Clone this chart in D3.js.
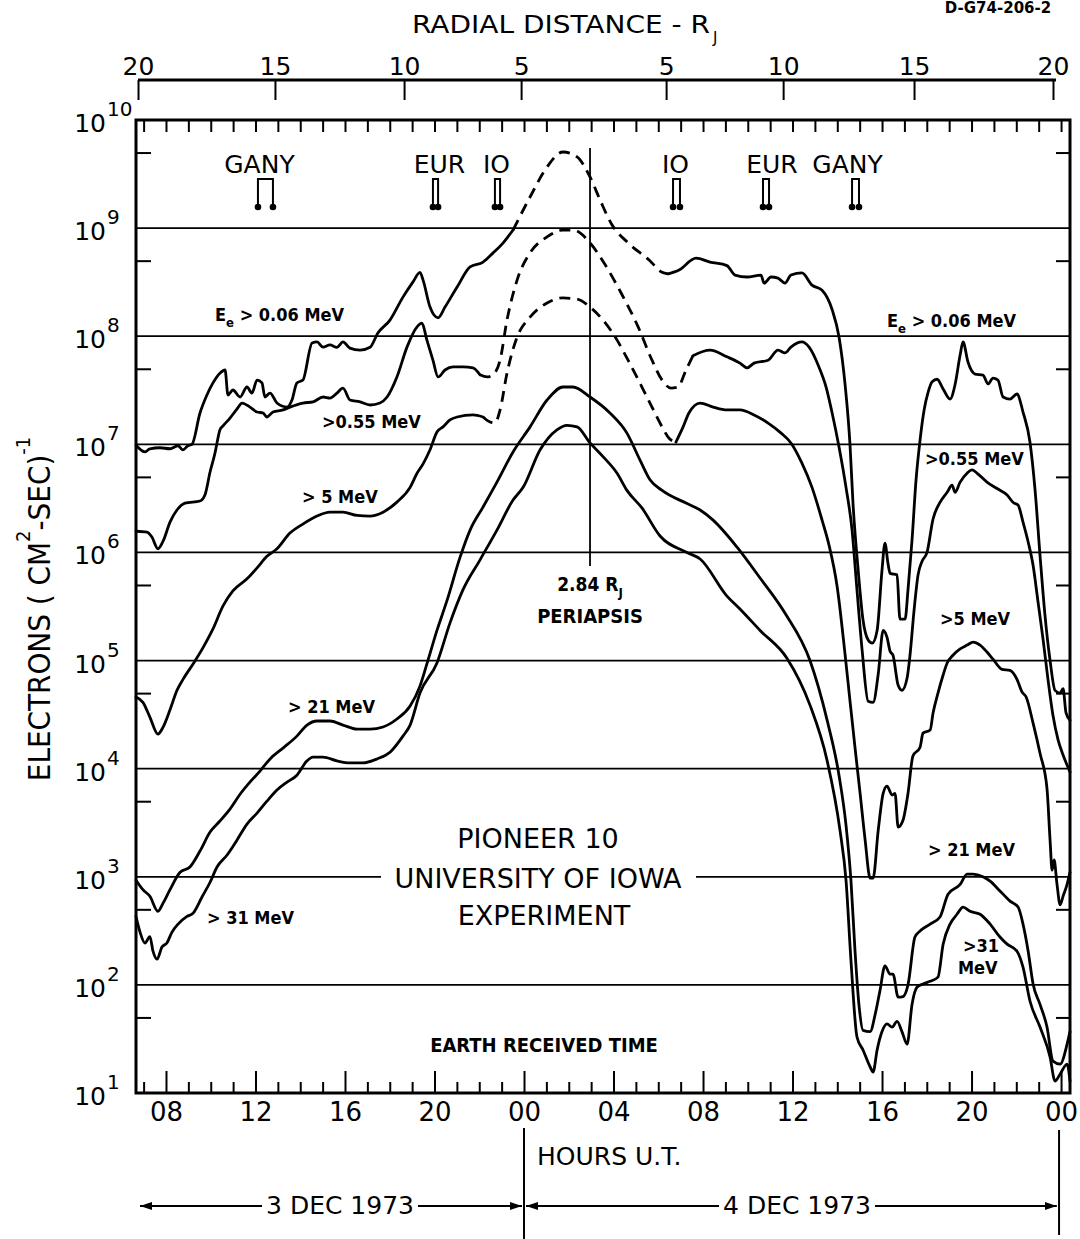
<!DOCTYPE html>
<html><head><meta charset="utf-8">
<script src="https://cdn.jsdelivr.net/npm/d3@7"></script>
<style>
body{margin:0;background:#fff;}
svg{display:block;background:#fff;}
</style></head><body>
<svg id="chart" width="1080" height="1239"></svg>
<script>
// ---------------- DATA ----------------
// hours measured from 00 UT, 3 Dec 1973 (24 = 00 UT 4 Dec, 48 = 00 UT 5 Dec)
const hourTicks  = [8,12,16,20,24,28,32,36,40,44,48];
const hourLabels = ["08","12","16","20","00","04","08","12","16","20","00"];
const radialHours  = [6.75,12.87,18.64,23.87,30.35,35.58,41.43,47.64];
const radialLabels = ["20","15","10","5","5","10","15","20"];
const decadeExponents = [1,2,3,4,5,6,7,8,9,10];
const moonNames = ["GANY","EUR","IO","IO","EUR","GANY"];
const moonHours = [[12.11,12.78],[19.93,20.16],[22.70,22.93],[30.66,30.97],[34.68,34.95],[38.66,38.97]];
const periapsisHour = 26.95;
const dayLabels = ["3 DEC 1973","4 DEC 1973"];
const dayBounds = [[6.75,24],[24,47.9]];

// electron flux (cm^-2 s^-1) vs hour
const flux006 = [[6.66,9.8e6],[7.07,8.5e6],[7.28,9.1e6],[7.73,9.3e6],[8.18,9.1e6],[8.54,9.7e6],[8.76,8.9e6],[8.98,9.7e6],[9.16,1.0e7],[9.52,1.95e7],[9.83,2.86e7],[10.10,3.7e7],[10.41,4.55e7],[10.64,4.87e7],[10.77,2.86e7],[10.99,3.18e7],[11.31,2.74e7],[11.62,3.39e7],[11.84,2.98e7],[12.07,3.93e7],[12.29,3.7e7],[12.42,2.74e7],[12.65,2.98e7],[12.96,2.41e7],[13.41,2.21e7],[13.63,2.57e7],[13.85,3.7e7],[14.12,3.93e7],[14.53,8.66e7],[14.75,8.85e7],[15.02,7.93e7],[15.33,8.3e7],[15.64,7.9e7],[15.91,8.85e7],[16.22,7.76e7],[16.67,7.43e7],[17.12,7.9e7],[17.47,1.07e8],[18.01,1.41e8],[18.59,2.3e8],[19.04,3.18e8],[19.35,3.9e8],[19.49,3.3e8],[19.80,1.86e8],[20.16,1.48e8],[20.47,1.86e8],[21.01,2.85e8],[21.59,4.37e8],[22.17,4.85e8],[22.61,5.87e8],[23.06,7.27e8],[23.51,9.6e8],[24.27,1.94e9],[25.03,3.68e9],[25.74,5.06e9],[26.37,4.55e9],[26.95,2.97e9],[27.40,1.82e9],[27.89,1.11e9],[28.65,7.3e8],[29.59,5.07e8],[30.17,3.9e8],[30.44,3.77e8],[30.93,4.1e8],[31.69,5.27e8],[32.31,4.85e8],[33.07,4.5e8],[33.43,3.68e8],[33.97,3.53e8],[34.59,3.68e8],[34.73,3.1e8],[35.04,3.53e8],[35.35,3.45e8],[35.66,3.1e8],[35.93,3.68e8],[36.42,3.85e8],[36.87,2.97e8],[37.32,2.66e8],[37.77,1.76e8],[38.08,9.8e7],[38.35,3.54e7],[38.57,9.8e6],[38.70,2.9e6],[38.93,7.0e5],[39.15,2.37e5],[39.38,1.55e5],[39.56,1.45e5],[39.78,1.9e5],[40.00,6.9e5],[40.13,1.22e6],[40.27,7.8e5],[40.36,6.4e5],[40.67,6.2e5],[40.80,2.42e5],[41.03,2.42e5],[41.16,4.5e5],[41.34,1.3e6],[41.52,4.7e6],[41.70,1.1e7],[41.88,2.08e7],[42.06,3.04e7],[42.24,3.8e7],[42.46,4.0e7],[42.73,3.25e7],[43.04,2.62e7],[43.26,3.54e7],[43.49,6.7e7],[43.62,8.85e7],[43.84,5.77e7],[44.16,4.47e7],[44.51,4.37e7],[44.74,3.62e7],[44.96,4.1e7],[45.18,3.93e7],[45.41,2.74e7],[45.72,2.62e7],[46.03,2.92e7],[46.30,1.99e7],[46.61,1.05e7],[46.84,3.75e6],[47.06,9.4e5],[47.28,2.65e5],[47.51,1.0e5],[47.73,5.3e4],[47.96,5.0e4],[48.09,5.5e4],[48.22,3.3e4],[48.40,2.8e4]];

const flux055 = [[6.66,1.57e6],[7.15,1.54e6],[7.37,1.39e6],[7.64,1.08e6],[7.87,1.27e6],[8.18,1.91e6],[8.49,2.47e6],[8.85,2.86e6],[9.52,2.99e6],[9.74,3.4e6],[9.97,5.55e6],[10.19,8.3e6],[10.28,1.03e7],[10.41,1.36e7],[10.55,1.48e7],[10.86,1.75e7],[11.17,2.12e7],[11.40,2.41e7],[11.75,2.21e7],[12.07,1.99e7],[12.34,1.95e7],[12.51,1.79e7],[12.78,1.99e7],[13.23,2.08e7],[13.54,2.21e7],[14.12,2.41e7],[14.57,2.47e7],[15.02,2.74e7],[15.33,2.68e7],[15.64,2.98e7],[15.91,3.31e7],[16.22,2.57e7],[16.67,2.47e7],[17.12,2.31e7],[17.56,2.41e7],[17.88,2.74e7],[18.32,4.2e7],[18.77,7.93e7],[19.22,1.22e8],[19.44,1.32e8],[19.66,9.2e7],[19.93,6.0e7],[20.16,4.2e7],[20.47,4.87e7],[20.83,5.2e7],[21.27,5.2e7],[21.72,5.1e7],[22.03,4.4e7],[22.35,4.2e7],[22.61,4.4e7],[22.93,6.0e7],[23.24,1.41e8],[23.69,3.3e8],[24.27,5.9e8],[25.03,8.3e8],[25.74,9.6e8],[26.19,9.6e8],[26.95,7.3e8],[27.58,4.75e8],[28.34,2.51e8],[29.10,1.22e8],[29.72,6.0e7],[30.17,3.93e7],[30.57,3.31e7],[30.88,3.39e7],[31.24,4.87e7],[31.55,6.6e7],[32.31,7.43e7],[33.07,6.45e7],[33.65,5.64e7],[33.97,5.1e7],[34.28,5.64e7],[34.91,6.0e7],[35.35,7.43e7],[35.66,7.0e7],[35.93,7.93e7],[36.42,8.85e7],[36.74,7.93e7],[37.18,5.2e7],[37.50,3.39e7],[37.77,1.95e7],[38.08,9.4e6],[38.39,4.0e6],[38.66,1.61e6],[38.88,4.5e5],[39.11,1.25e5],[39.38,4.2e4],[39.60,4.1e4],[39.83,7.5e4],[40.05,1.9e5],[40.22,1.65e5],[40.36,1.22e5],[40.49,1.12e5],[40.72,5.9e4],[40.89,5.3e4],[41.12,6.9e4],[41.25,1.12e5],[41.43,2.9e5],[41.61,6.2e5],[41.79,8.3e5],[42.01,1.0e6],[42.28,2.04e6],[42.59,2.9e6],[42.91,3.6e6],[43.13,4.2e6],[43.26,3.6e6],[43.49,4.47e6],[43.80,5.4e6],[44.02,5.8e6],[44.25,5.4e6],[44.69,4.47e6],[45.14,3.9e6],[45.59,3.4e6],[45.86,2.9e6],[46.08,2.74e6],[46.30,1.91e6],[46.53,1.25e6],[46.75,7.6e5],[46.97,3.5e5],[47.20,1.55e5],[47.42,6.6e4],[47.64,3.1e4],[47.87,1.84e4],[48.09,1.34e4],[48.27,1.08e4],[48.40,9.3e3]];

const flux5 = [[6.66,4.6e4],[6.97,4.1e4],[7.28,3.0e4],[7.64,2.09e4],[7.87,2.42e4],[8.18,3.5e4],[8.49,5.3e4],[8.76,6.7e4],[9.21,9.3e4],[9.65,1.31e5],[10.10,1.96e5],[10.55,3.2e5],[10.99,4.4e5],[11.62,5.7e5],[12.07,7.2e5],[12.51,9.2e5],[12.96,1.08e6],[13.54,1.51e6],[14.12,1.83e6],[14.75,2.17e6],[15.33,2.36e6],[15.91,2.36e6],[16.54,2.2e6],[17.12,2.17e6],[17.70,2.36e6],[18.32,2.92e6],[18.91,4.0e6],[19.22,5.4e6],[19.49,6.6e6],[19.80,8.9e6],[20.11,1.3e7],[20.38,1.45e7],[20.69,1.68e7],[21.01,1.79e7],[21.72,1.87e7],[22.17,1.79e7],[22.48,1.61e7],[22.70,1.58e7],[22.93,2.08e7],[23.24,4.55e7],[23.69,9.8e7],[24.27,1.5e8],[25.03,2.03e8],[25.74,2.26e8],[26.37,2.2e8],[26.95,1.86e8],[27.53,1.41e8],[28.16,9.2e7],[28.65,6.0e7],[29.27,3.39e7],[29.72,2.21e7],[30.17,1.45e7],[30.48,1.14e7],[30.79,1.05e7],[31.11,1.45e7],[31.37,1.95e7],[31.87,2.41e7],[32.45,2.21e7],[33.07,2.08e7],[33.65,2.08e7],[34.28,1.87e7],[34.91,1.57e7],[35.49,1.27e7],[35.93,1.03e7],[36.42,6.7e6],[36.87,4.0e6],[37.32,1.99e6],[37.63,1.17e6],[37.99,4.9e5],[38.35,1.13e5],[38.57,4.2e4],[38.79,1.58e4],[39.02,5.9e3],[39.24,2.23e3],[39.47,9.7e2],[39.60,9.7e2],[39.83,2.7e3],[40.05,5.9e3],[40.22,6.9e3],[40.45,5.7e3],[40.58,5.9e3],[40.72,2.88e3],[40.94,3.35e3],[41.16,5.9e3],[41.38,1.31e4],[41.70,1.58e4],[41.83,2.13e4],[42.15,2.28e4],[42.28,3.27e4],[42.50,5.0e4],[42.73,7.35e4],[42.91,9.5e4],[43.17,1.12e5],[43.49,1.28e5],[43.80,1.39e5],[44.07,1.48e5],[44.38,1.39e5],[44.69,1.2e5],[44.96,1.03e5],[45.36,8.3e4],[45.72,8.1e4],[46.03,6.7e4],[46.26,5.1e4],[46.44,4.6e4],[46.75,2.64e4],[47.06,1.39e4],[47.37,6.6e3],[47.51,2.17e3],[47.60,1.15e3],[47.69,1.43e3],[47.82,8.5e2],[47.96,5.5e2],[48.09,6.6e2],[48.27,8.5e2],[48.40,1.1e3]];

const flux21 = [[6.66,9.3e2],[6.97,7.6e2],[7.28,6.6e2],[7.64,4.8e2],[7.87,5.7e2],[8.18,7.6e2],[8.63,1.1e3],[9.07,1.23e3],[9.52,1.73e3],[9.97,2.59e3],[10.41,3.28e3],[10.86,4.23e3],[11.31,5.8e3],[11.75,7.5e3],[12.20,9.5e3],[12.65,1.23e4],[13.23,1.55e4],[13.85,2.0e4],[14.30,2.53e4],[14.75,2.76e4],[15.33,2.76e4],[15.91,2.53e4],[16.54,2.32e4],[17.12,2.32e4],[17.70,2.43e4],[18.32,2.88e4],[18.91,3.8e4],[19.35,5.8e4],[19.66,9.3e4],[20.11,1.9e5],[20.56,3.6e5],[21.14,9.0e5],[21.59,1.61e6],[22.17,2.63e6],[22.79,4.47e6],[23.51,8.5e6],[24.27,1.45e7],[25.03,2.57e7],[25.74,3.39e7],[26.19,3.39e7],[26.95,2.74e7],[27.84,1.95e7],[28.60,1.27e7],[29.19,7.1e6],[29.63,4.7e6],[30.17,3.75e6],[31.24,2.86e6],[31.87,2.47e6],[32.45,1.99e6],[33.52,1.12e6],[34.55,5.8e5],[35.66,2.75e5],[36.78,1.0e5],[37.54,2.84e4],[38.08,8.6e3],[38.39,3.0e3],[38.61,9.3e2],[38.79,2.1e2],[38.97,6.5e1],[39.15,3.8e1],[39.47,3.7e1],[39.69,5.3e1],[39.91,8.9e1],[40.13,1.5e2],[40.36,1.26e2],[40.49,1.26e2],[40.72,7.7e1],[40.94,7.8e1],[41.16,1.0e2],[41.47,2.77e2],[41.70,3.15e2],[42.15,3.65e2],[42.59,4.24e2],[42.95,6.9e2],[43.49,8.5e2],[43.80,1.06e3],[44.07,1.06e3],[44.51,1.0e3],[44.83,9.1e2],[45.27,7.4e2],[45.72,5.96e2],[46.08,5.25e2],[46.30,3.65e2],[46.53,2.05e2],[46.75,1.02e2],[47.06,6.6e1],[47.37,4.1e1],[47.64,1.97e1],[47.96,1.85e1],[48.27,2.83e1],[48.40,3.7e1]];

const flux31 = [[6.66,4.3e2],[6.84,3.08e2],[7.06,2.44e2],[7.28,2.8e2],[7.42,2.05e2],[7.60,1.73e2],[7.82,2.24e2],[8.04,2.44e2],[8.27,3.08e2],[8.54,3.65e2],[8.94,4.3e2],[9.21,4.6e2],[9.61,6.5e2],[9.97,8.9e2],[10.28,1.23e3],[10.73,1.59e3],[11.17,2.18e3],[11.62,3.07e3],[12.07,3.88e3],[12.51,5.0e3],[12.96,6.35e3],[13.41,7.5e3],[13.85,8.7e3],[14.30,1.18e4],[14.57,1.28e4],[15.02,1.28e4],[15.64,1.18e4],[16.22,1.13e4],[16.80,1.13e4],[17.43,1.23e4],[18.01,1.42e4],[18.59,2.0e4],[18.91,2.53e4],[19.35,5.0e4],[20.11,9.5e4],[20.69,2.22e5],[21.27,4.5e5],[22.03,8.5e5],[22.79,1.61e6],[23.51,3.05e6],[23.96,4.0e6],[24.72,8.9e6],[25.47,1.36e7],[25.92,1.5e7],[26.37,1.45e7],[26.95,1.03e7],[27.53,7.7e6],[28.16,5.4e6],[28.60,3.75e6],[29.27,2.58e6],[30.08,1.42e6],[31.28,1.0e6],[31.87,8.7e5],[33.07,3.95e5],[33.65,3.0e5],[34.55,1.9e5],[35.75,1.05e5],[36.78,3.87e4],[37.54,1.2e4],[38.12,2.7e3],[38.39,9.3e2],[38.61,1.7e2],[38.88,3.3e1],[39.15,2.5e1],[39.47,1.74e1],[39.60,1.56e1],[39.78,2.5e1],[40.00,3.7e1],[40.22,4.35e1],[40.45,4.07e1],[40.67,4.6e1],[40.89,3.7e1],[41.12,2.83e1],[41.34,6.6e1],[41.56,9.5e1],[41.83,1.02e2],[42.15,1.08e2],[42.50,1.18e2],[42.73,2.38e2],[43.04,3.65e2],[43.35,4.5e2],[43.62,5.25e2],[43.93,4.8e2],[44.38,4.5e2],[44.83,3.65e2],[45.27,2.77e2],[45.59,2.38e2],[46.03,2.05e2],[46.30,1.46e2],[46.61,7.1e1],[47.06,4.07e1],[47.51,2.15e1],[47.73,1.29e1],[47.96,1.5e1],[48.27,1.85e1],[48.40,1.29e1]];

// hours where a channel is drawn dashed (interpolated)
const dashStart = [23.51, 22.03, 22.17, null, null];
const dashEnd   = [30.44, 31.55, 30.79, null, null];

// ---------------- LAYOUT ----------------
const L=136, R=1070, T=120, B=1093;
const FONT  = "'DejaVu Sans', sans-serif";
const FONTC = "'DejaVu Sans Condensed','DejaVu Sans',sans-serif";
const svg = d3.select("#chart");
const x = d3.scaleLinear().domain([6.66,48.4]).range([L,R]);
const y = d3.scaleLog().domain([1e1,1e10]).range([B,T]);

// gridlines (decades)
const gridVals = decadeExponents.filter(e=>e>1 && e<10).map(e=>Math.pow(10,e));
svg.append("g").selectAll("line").data(gridVals).join("line")
  .attr("x1",L).attr("x2",R).attr("y1",d=>y(d)).attr("y2",d=>y(d))
  .attr("stroke","#000").attr("stroke-width",1.8);

// gap in 10^3 gridline for the experiment label
svg.append("rect").attr("x",381).attr("width",315).attr("y",y(1e3)-4).attr("height",8).attr("fill","#fff");

// frame
svg.append("rect").attr("x",L).attr("y",T).attr("width",R-L).attr("height",B-T)
  .attr("fill","none").attr("stroke","#000").attr("stroke-width",3);

// bottom axis: major (4-hourly, labelled) and minor (hourly) ticks
const gB = svg.append("g").attr("transform",`translate(0,${B})`)
  .call(d3.axisBottom(x).tickValues(hourTicks).tickFormat((d,i)=>hourLabels[i])
        .tickSizeInner(-22).tickSizeOuter(0).tickPadding(10));
gB.attr("font-size",26).attr("font-family",FONT);
gB.select(".domain").remove();
gB.selectAll(".tick line").attr("stroke-width",2);
const minorHours = d3.range(7,49).filter(h=>!hourTicks.includes(h));
const gBm = svg.append("g").attr("transform",`translate(0,${B})`)
  .call(d3.axisBottom(x).tickValues(minorHours).tickFormat("").tickSizeInner(-11).tickSizeOuter(0));
gBm.select(".domain").remove();
gBm.selectAll(".tick line").attr("stroke-width",2);

// top inner hourly ticks
const gT = svg.append("g").attr("transform",`translate(0,${T})`)
  .call(d3.axisTop(x).tickValues(d3.range(7,49)).tickFormat("").tickSizeInner(-12).tickSizeOuter(0));
gT.select(".domain").remove();
gT.selectAll(".tick line").attr("stroke-width",2);

// left / right half-decade ticks (5 x 10^n)
const halfVals = decadeExponents.filter(e=>e<10).map(e=>5*Math.pow(10,e));
const gL = svg.append("g").attr("transform",`translate(${L},0)`)
  .call(d3.axisLeft(y).tickValues(halfVals).tickFormat("").tickSizeInner(-15).tickSizeOuter(0));
gL.select(".domain").remove();
gL.selectAll(".tick line").attr("stroke-width",2);
const gR = svg.append("g").attr("transform",`translate(${R},0)`)
  .call(d3.axisRight(y).tickValues(halfVals).tickFormat("").tickSizeInner(-14).tickSizeOuter(0));
gR.select(".domain").remove();
gR.selectAll(".tick line").attr("stroke-width",2);

// left decade labels 10^n
const yl = svg.append("g").attr("font-family",FONT);
decadeExponents.forEach(e=>{
  const v = Math.pow(10,e);
  yl.append("text").attr("x",106).attr("y",y(v)+12).attr("text-anchor","end")
    .attr("font-size",25).text("10");
  yl.append("text").attr("x",107).attr("y",y(v)-4).attr("text-anchor","start")
    .attr("font-size",20).text(String(e));
});

// y-axis title
const yt = svg.append("text").attr("transform","translate(50,609) rotate(-90)")
  .attr("text-anchor","middle").attr("font-family",FONTC).attr("font-size",31);
yt.append("tspan").text("ELECTRONS ( CM");
yt.append("tspan").attr("font-size",20).attr("dy",-20).text("2");
yt.append("tspan").attr("dy",20).text("-SEC)");
yt.append("tspan").attr("font-size",20).attr("dy",-20).text("-1");

// top radial distance axis
const gRad = svg.append("g").attr("transform","translate(0,80)")
  .call(d3.axisTop(x).tickValues(radialHours).tickFormat((d,i)=>radialLabels[i])
        .tickSizeInner(-20).tickSizeOuter(0).tickPadding(5));
gRad.attr("font-size",25).attr("font-family",FONT);
gRad.select(".domain").remove();
gRad.selectAll(".tick line").attr("stroke-width",2);
svg.append("line").attr("x1",x(radialHours[0])).attr("x2",x(radialHours[radialHours.length-1])+3)
  .attr("y1",80).attr("y2",80).attr("stroke","#000").attr("stroke-width",3);
svg.append("text").attr("x",412).attr("y",33).attr("font-family",FONT).attr("font-size",24)
  .attr("textLength",298).attr("lengthAdjust","spacingAndGlyphs").text("RADIAL DISTANCE - R");
svg.append("text").attr("x",713).attr("y",43).attr("font-family",FONT).attr("font-size",15).text("J");
svg.append("text").attr("x",998).attr("y",13).attr("text-anchor","middle").attr("font-family",FONT)
  .attr("font-weight","bold").attr("font-size",15).text("D-G74-206-2");

// moon L-shell crossing markers
const moonG = svg.append("g");
moonHours.forEach((hh,i)=>{
  const x0=x(hh[0]), x1=x(hh[1]);
  moonG.append("path").attr("d",`M${x0},206V179H${x1}V206`).attr("fill","none")
    .attr("stroke","#000").attr("stroke-width",2);
  [x0,x1].forEach(xx=>moonG.append("circle").attr("cx",xx).attr("cy",207).attr("r",3.3).attr("fill","#000"));
});
const moonDx = [-6,4,-1,-1,6,-8];
moonNames.forEach((n,i)=>{
  svg.append("text").attr("x",(x(moonHours[i][0])+x(moonHours[i][1]))/2+moonDx[i]).attr("y",173)
    .attr("text-anchor","middle").attr("font-family",FONT).attr("font-size",25).text(n);
});

// periapsis line + label
svg.append("line").attr("x1",x(periapsisHour)).attr("x2",x(periapsisHour))
  .attr("y1",y(5.5e9)).attr("y2",y(7.5e5)).attr("stroke","#000").attr("stroke-width",1.8);
const pt = svg.append("text").attr("x",x(periapsisHour)).attr("y",591).attr("text-anchor","middle")
  .attr("font-family",FONTC).attr("font-weight","bold").attr("font-size",19);
pt.append("tspan").text("2.84 R");
pt.append("tspan").attr("font-size",13).attr("dy",6).text("J");
svg.append("text").attr("x",x(periapsisHour)).attr("y",623).attr("text-anchor","middle")
  .attr("font-family",FONTC).attr("font-weight","bold").attr("font-size",20).text("PERIAPSIS");

// experiment labels
[["PIONEER 10",538,848],["UNIVERSITY OF IOWA",538,888],["EXPERIMENT",544,925]].forEach(t=>{
  svg.append("text").attr("x",t[1]).attr("y",t[2]).attr("text-anchor","middle")
    .attr("font-family",FONT).attr("font-size",27).text(t[0]);
});
svg.append("text").attr("x",544).attr("y",1052).attr("text-anchor","middle")
  .attr("font-family",FONTC).attr("font-weight","bold").attr("font-size",20).text("EARTH RECEIVED TIME");

// curves
const lineGen = d3.line().x(d=>x(d[0])).y(d=>y(d[1])).curve(d3.curveMonotoneX);
const allSeries = [flux006, flux055, flux5, flux21, flux31];
const curveG = svg.append("g").attr("fill","none").attr("stroke","#000")
  .attr("stroke-width",2.8).attr("stroke-linejoin","round").attr("stroke-linecap","round");
allSeries.forEach((data,i)=>{
  const a = dashStart[i], b = dashEnd[i];
  if (a===null) {
    curveG.append("path").attr("d",lineGen(data));
  } else {
    curveG.append("path").attr("d",lineGen(data.filter(d=>d[0]<=a)));
    curveG.append("path").attr("d",lineGen(data.filter(d=>d[0]>=a && d[0]<=b)))
      .attr("stroke-dasharray","11,7").attr("stroke-linecap","butt");
    curveG.append("path").attr("d",lineGen(data.filter(d=>d[0]>=b)));
  }
});

// channel labels
function chanLabel(px,py,txt,sub){
  const t = svg.append("text").attr("x",px).attr("y",py).attr("font-family",FONTC)
    .attr("font-weight","bold").attr("font-size",18);
  if (sub) {
    t.append("tspan").text("E");
    t.append("tspan").attr("font-size",13).attr("dy",6).text("e");
    t.append("tspan").attr("dy",-6).text(txt);
  } else t.text(txt);
}
chanLabel(215,321," > 0.06 MeV",true);
chanLabel(322,428,">0.55 MeV");
chanLabel(302,503,"> 5 MeV");
chanLabel(288,713,"> 21 MeV");
chanLabel(207,924,"> 31 MeV");
chanLabel(887,327," > 0.06 MeV",true);
chanLabel(925,465,">0.55 MeV");
chanLabel(940,625,">5 MeV");
chanLabel(928,856,"> 21 MeV");
chanLabel(963,952,">31");
chanLabel(958,974,"MeV");

// bottom: hours UT and day arrows
svg.append("text").attr("x",537).attr("y",1165).attr("font-family",FONT).attr("font-size",25).text("HOURS U.T.");
svg.append("line").attr("x1",x(24)).attr("x2",x(24)).attr("y1",1128).attr("y2",1239).attr("stroke","#000").attr("stroke-width",2);
svg.append("line").attr("x1",x(48)-2).attr("x2",x(48)-2).attr("y1",1130).attr("y2",1235).attr("stroke","#000").attr("stroke-width",2);

const defs = svg.append("defs");
defs.append("marker").attr("id","ah").attr("viewBox","0 0 12 8").attr("refX",12).attr("refY",4)
  .attr("markerWidth",12).attr("markerHeight",8).attr("markerUnits","userSpaceOnUse")
  .attr("orient","auto-start-reverse")
  .append("path").attr("d","M0,0L12,4L0,8Z").attr("fill","#000");
const dayCenters = [340, 797];
dayLabels.forEach((lab,i)=>{
  const t = svg.append("text").attr("x",dayCenters[i]).attr("y",1214).attr("text-anchor","middle")
    .attr("font-family",FONT).attr("font-size",25).text(lab);
  const w = t.node().getComputedTextLength();
  const xa = x(dayBounds[i][0]) + 2, xb = x(dayBounds[i][1]) - 2;
  svg.append("line").attr("x1",dayCenters[i]-w/2-4).attr("x2",xa).attr("y1",1206).attr("y2",1206)
    .attr("stroke","#000").attr("stroke-width",2).attr("marker-end","url(#ah)");
  svg.append("line").attr("x1",dayCenters[i]+w/2+4).attr("x2",xb).attr("y1",1206).attr("y2",1206)
    .attr("stroke","#000").attr("stroke-width",2).attr("marker-end","url(#ah)");
});
</script>
</body></html>
